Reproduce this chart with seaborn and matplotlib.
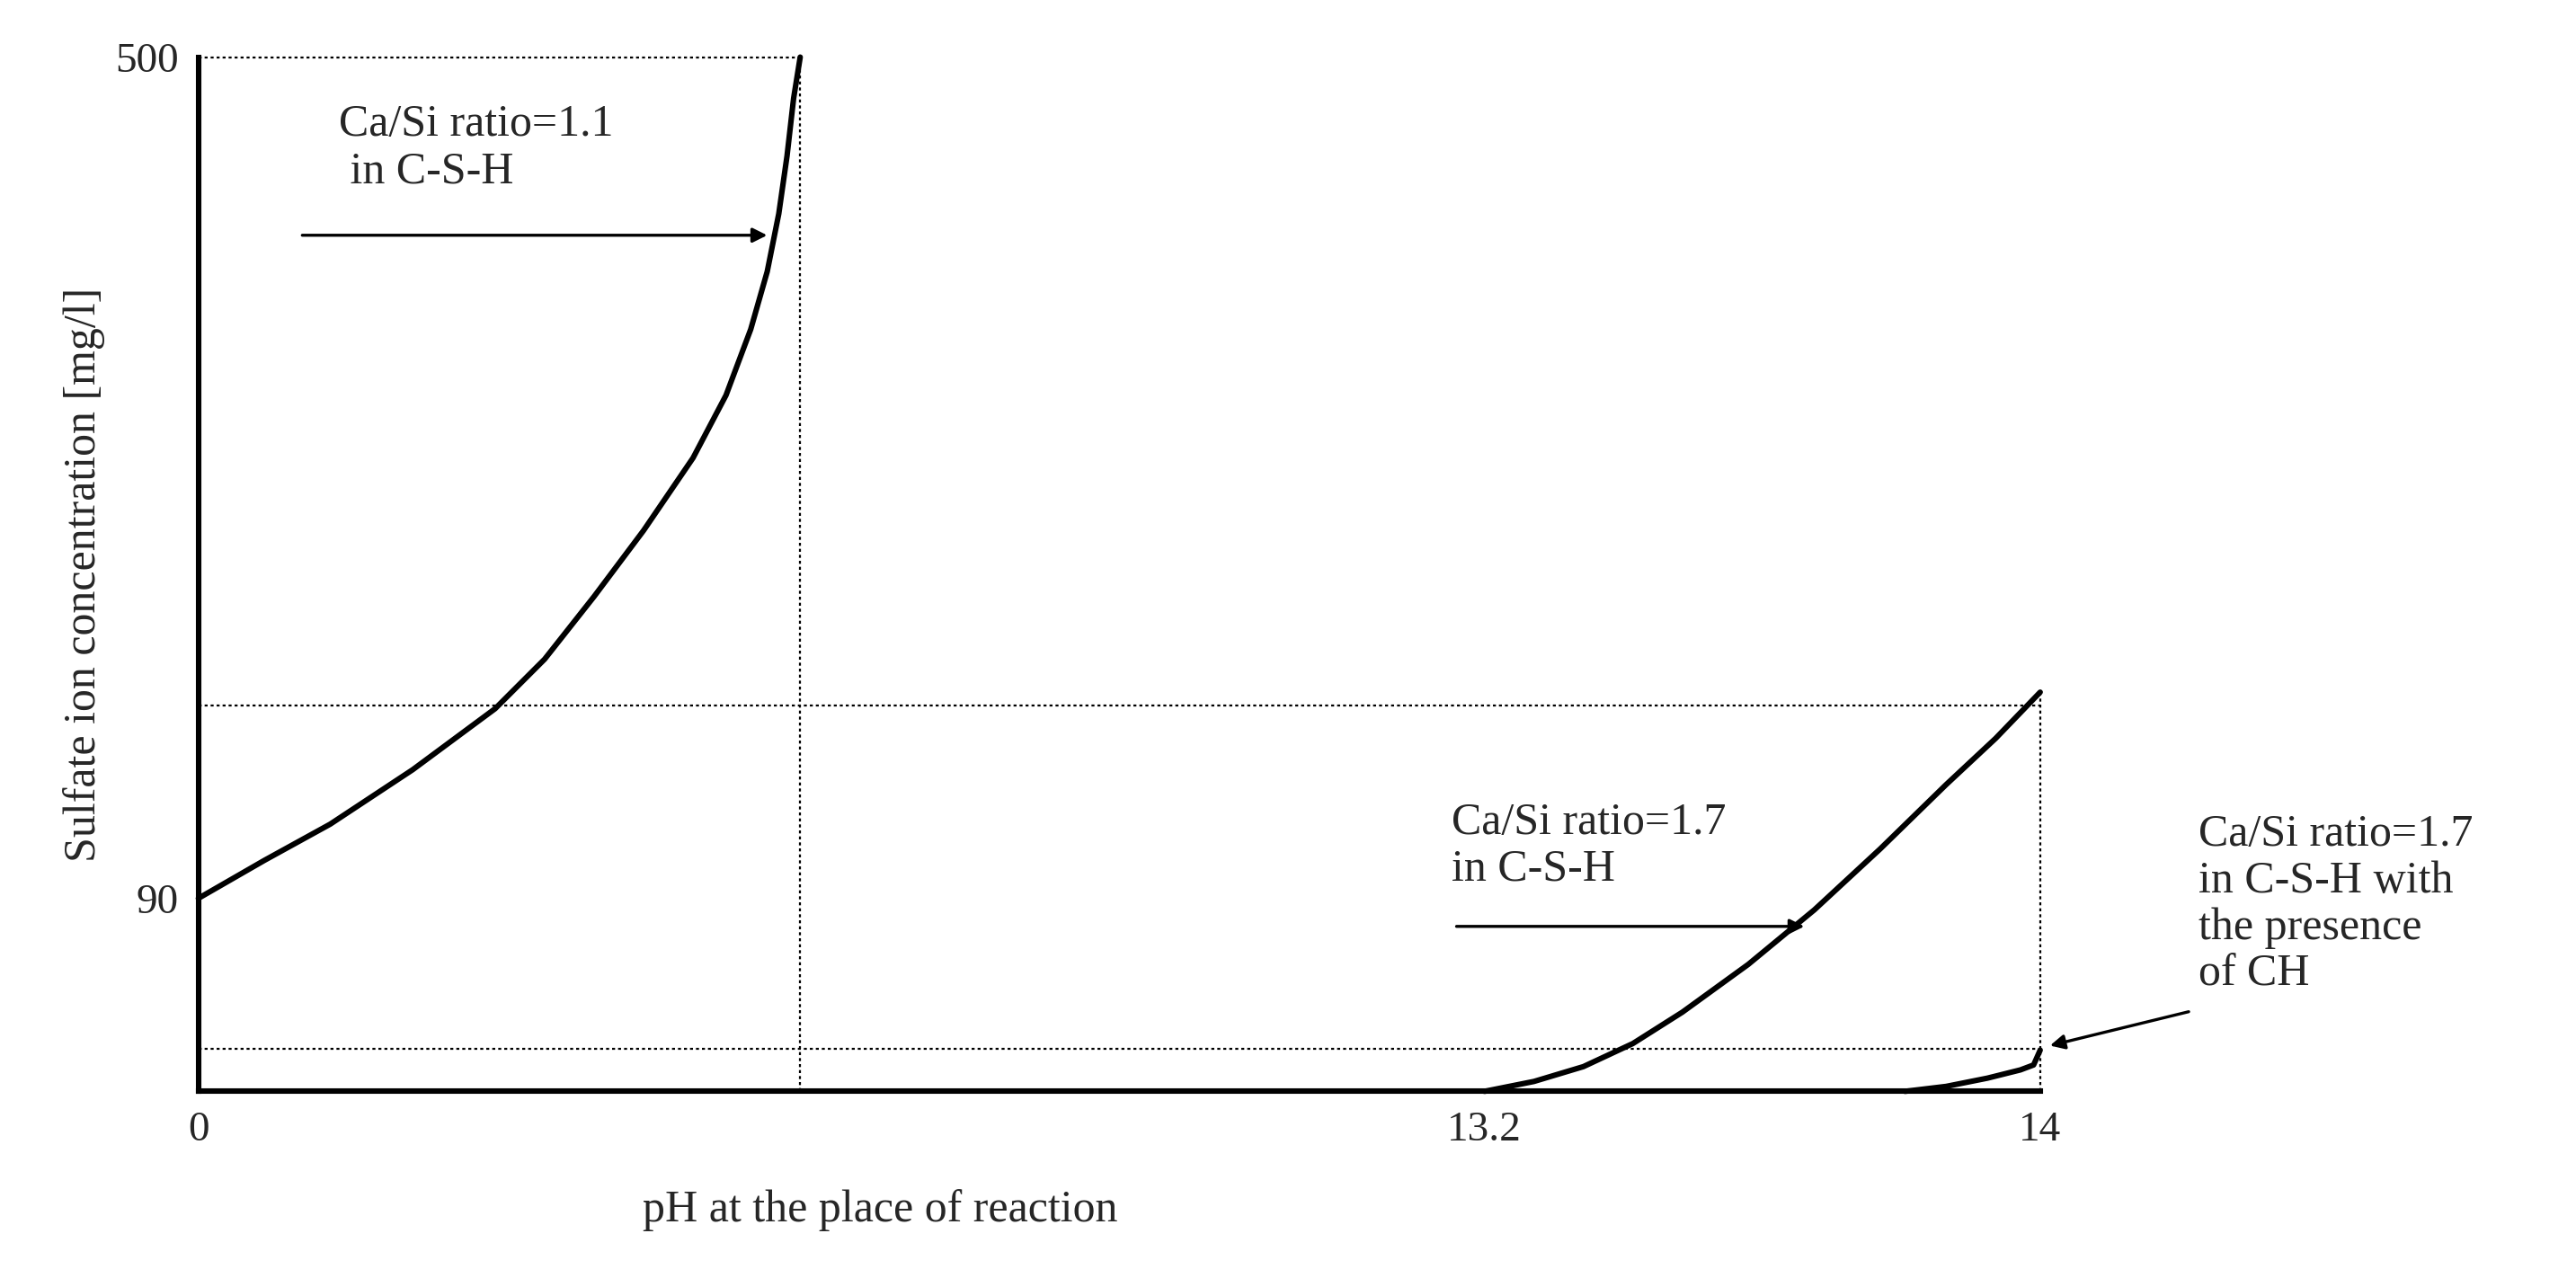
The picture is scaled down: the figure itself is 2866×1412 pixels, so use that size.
import matplotlib
matplotlib.use("Agg")
import matplotlib.pyplot as plt
import seaborn as sns
import pandas as pd

# schematic coordinates (axis units)
ca11_x = [0, 40, 80, 130, 180, 210, 240, 270, 300, 320, 335, 345, 352, 357, 361, 365]
ca11_y = [117, 140, 162, 195, 232, 262, 300, 340, 384, 422, 462, 497, 532, 567, 602, 627]
ca17_x = [780, 810, 840, 870, 900, 940, 980, 1020, 1060, 1090, 1117]
ca17_y = [0, 6, 15, 29, 48, 77, 110, 147, 186, 214, 242]
ch_x = [1035, 1060, 1085, 1105, 1113, 1117]
ch_y = [0, 3, 8, 13, 16, 25]

tick_pos_x = [0, 780, 1117]
tick_lab_x = ["0", "13.2", "14"]
tick_pos_y = [117, 627]
tick_lab_y = ["90", "500"]

sns.set_theme(style="white")
plt.rcParams["font.family"] = ["Liberation Serif", "DejaVu Serif"]

fig = plt.figure(figsize=(14.33, 7.06), dpi=200)
ax = fig.add_axes([0.077, 0.14, 0.715, 0.815])

curves = pd.concat([
    pd.DataFrame({"x": ca11_x, "y": ca11_y, "c": "a"}),
    pd.DataFrame({"x": ca17_x, "y": ca17_y, "c": "b"}),
    pd.DataFrame({"x": ch_x, "y": ch_y, "c": "c"}),
])
for _, d in curves.groupby("c"):
    sns.lineplot(data=d, x="x", y="y", ax=ax, color="black", lw=2.2,
                 sort=False, estimator=None, clip_on=False)

dot = dict(color="black", lw=0.8, ls=(0, (1.5, 1.5)), clip_on=False)
ax.plot([0, 365], [627, 627], **dot)
ax.plot([365, 365], [0, 627], **dot)
ax.plot([0, 1117], [234, 234], **dot)
ax.plot([1117, 1117], [0, 242], **dot)
ax.plot([0, 1117], [26, 26], **dot)

ax.set_xlim(0, 1117)
ax.set_ylim(0, 627)
for s in ["top", "right"]:
    ax.spines[s].set_visible(False)
for s in ["left", "bottom"]:
    ax.spines[s].set_color("black")
    ax.spines[s].set_linewidth(2.2)
ax.set_xticks(tick_pos_x, tick_lab_x, fontsize=17)
ax.set_yticks(tick_pos_y, tick_lab_y, fontsize=17)
ax.tick_params(length=0, pad=8)
ax.set_xlabel("pH at the place of reaction", fontsize=18, labelpad=16, x=0.37)
ax.set_ylabel("Sulfate ion concentration [mg/l]", fontsize=18, labelpad=4)

fs = 18
ap = dict(arrowstyle="-|>", color="black", lw=1.2, mutation_scale=12)
ax.annotate("", xy=(348, 519), xytext=(60, 519), arrowprops=ap)
ax.text(85, 545, "Ca/Si ratio=1.1\n in C-S-H", fontsize=fs, va="bottom", linespacing=1.15)
ax.annotate("", xy=(977, 100), xytext=(760, 100), arrowprops=ap)
ax.text(760, 122, "Ca/Si ratio=1.7\nin C-S-H", fontsize=fs, va="bottom", linespacing=1.15)
ax.annotate("", xy=(1120, 27), xytext=(1210, 49), arrowprops=ap, annotation_clip=False)
ax.text(1213, 58, "Ca/Si ratio=1.7\nin C-S-H with\nthe presence\nof CH", fontsize=fs,
        va="bottom", linespacing=1.15)

fig.savefig("out.png", dpi=200)
